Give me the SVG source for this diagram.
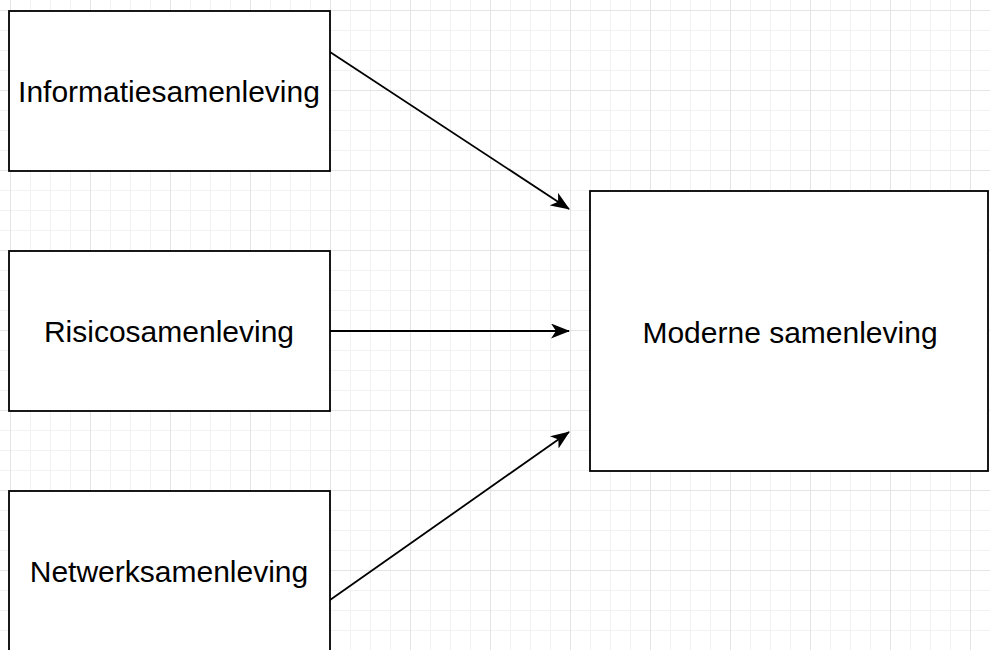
<svg xmlns="http://www.w3.org/2000/svg" width="990" height="650" viewBox="0 0 990 650">
<style>
.box{fill:#ffffff;stroke:#000000;stroke-width:1.8}
.lbl{font-family:"Liberation Sans",Arial,sans-serif;font-size:30px;fill:#000000;text-anchor:middle}
.edge{stroke:#000000;stroke-width:1.8;fill:none}
</style>
<defs>
<pattern id="grid" patternUnits="userSpaceOnUse" x="10" y="10" width="80" height="80">
<path d="M20.5 0V80M40.5 0V80M60.5 0V80M0 20.5H80M0 40.5H80M0 60.5H80" stroke="#f2f2f2" stroke-width="1" fill="none"/>
<path d="M0.5 0V80M0 0.5H80" stroke="#e4e4e4" stroke-width="1" fill="none"/>
</pattern>
<marker id="arrow" viewBox="0 0 19 15" markerWidth="19" markerHeight="15" refX="18" refY="7.5" orient="auto" markerUnits="userSpaceOnUse">
<path d="M0,0 L19,7.5 L0,15 L5,7.5 z" fill="#000000"/>
</marker>
</defs>
<rect x="0" y="0" width="990" height="650" fill="#ffffff"/>
<rect x="0" y="0" width="990" height="650" fill="url(#grid)"/>
<g id="connectors">
<path class="edge" d="M330,52 L569,209" marker-end="url(#arrow)"/>
<path class="edge" d="M330,331 L569,331" marker-end="url(#arrow)"/>
<path class="edge" d="M330,600 L569,432" marker-end="url(#arrow)"/>
</g>
<g id="informatiesamenleving">
<rect class="box" x="9" y="11" width="321" height="160"/>
<text class="lbl" x="169" y="102">Informatiesamenleving</text>
</g>
<g id="risicosamenleving">
<rect class="box" x="9" y="251" width="321" height="160"/>
<text class="lbl" x="169" y="342">Risicosamenleving</text>
</g>
<g id="netwerksamenleving">
<rect class="box" x="9" y="491" width="321" height="160"/>
<text class="lbl" x="169" y="582">Netwerksamenleving</text>
</g>
<g id="moderne-samenleving">
<rect class="box" x="590" y="191" width="398" height="280"/>
<text class="lbl" x="790" y="343">Moderne samenleving</text>
</g>
</svg>
